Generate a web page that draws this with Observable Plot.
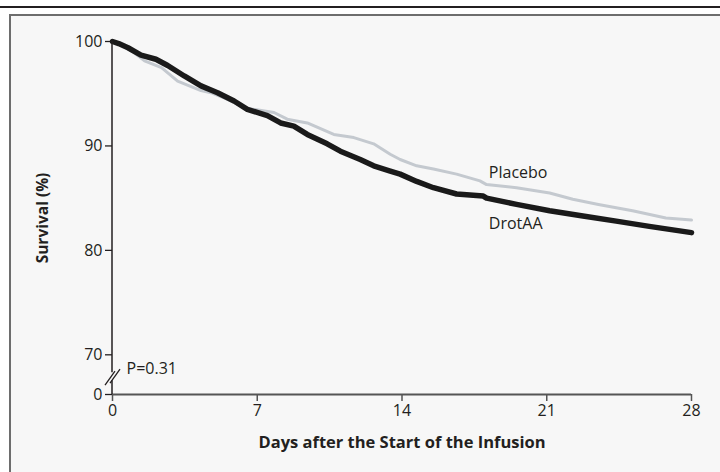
<!DOCTYPE html>
<html>
<head>
<meta charset="utf-8">
<script src="https://cdn.jsdelivr.net/npm/d3@7"></script>
<script src="https://cdn.jsdelivr.net/npm/@observablehq/plot@0.6"></script>
<style>
  html, body { margin: 0; padding: 0; background: #ffffff; }
  #wrap { position: relative; width: 720px; height: 472px; overflow: hidden; }
  #topline { position: absolute; left: 0; top: 6px; width: 720px; height: 2px; background: #231f20; }
  #box { position: absolute; left: 9px; top: 14px; width: 740px; height: 480px; border: 2px solid #6d6d6d; background: #f7f7f7; box-sizing: border-box; }
  #chart { position: absolute; left: 0; top: 0; }
</style>
</head>
<body>
<div id="wrap">
  <div id="topline"></div>
  <div id="box"></div>
  <div id="chart"></div>
</div>
<script>
// Data (Kaplan-Meier survival, %)
const drotDays = [0, 0.3, 0.75, 1.38, 2.1, 2.67, 3.47, 4.28, 5.08, 5.88, 6.52, 7.49, 8.13, 8.77, 9.42, 10.38, 11.02, 11.98, 12.63, 13.43, 13.91, 14.71, 15.52, 16.64, 17.93, 18.09, 19.54, 21.14, 22.75, 24.36, 25.96, 28];
const drotSurv = [100, 99.8, 99.4, 98.7, 98.3, 97.7, 96.7, 95.75, 95.1, 94.3, 93.5, 92.9, 92.2, 91.9, 91.1, 90.2, 89.5, 88.7, 88.1, 87.6, 87.3, 86.6, 86.0, 85.4, 85.2, 85.0, 84.4, 83.8, 83.3, 82.8, 82.3, 81.7];
const placeboDays = [0, 0.5, 1.0, 1.55, 2.37, 3.15, 4.28, 4.76, 5.5, 6.5, 7.2, 7.81, 8.45, 9.42, 10.7, 11.67, 12.63, 13.43, 13.91, 14.71, 15.52, 16.64, 17.77, 18.09, 19.54, 21.14, 22.26, 23.5, 25.15, 26.76, 28];
const placeboSurv = [100, 99.6, 99.0, 98.15, 97.5, 96.2, 95.3, 95.1, 94.5, 93.6, 93.4, 93.2, 92.56, 92.2, 91.1, 90.8, 90.2, 89.2, 88.7, 88.1, 87.8, 87.3, 86.65, 86.3, 86.0, 85.5, 84.9, 84.4, 83.8, 83.1, 82.9];

const xTicks = [0, 7, 14, 21, 28];
const yTicks = [70, 80, 90, 100];
const yBreakLabel = "0";          // label shown at the bottom of the broken axis
const yFloor = 66.2;              // where the broken axis ends (stands for 0)
const seriesNames = ["Placebo", "DrotAA"];
const labelDays = [18.2, 18.2];
const labelSurv = [87.4, 82.5];
const pValueText = "P=0.31";
const xTitle = "Days after the Start of the Infusion";
const yTitle = "Survival (%)";

const drot = drotDays.map((d, i) => ({day: d, surv: drotSurv[i]}));
const placebo = placeboDays.map((d, i) => ({day: d, surv: placeboSurv[i]}));
const labels = seriesNames.map((n, i) => ({name: n, day: labelDays[i], surv: labelSurv[i]}));

const W = 720, H = 472;
const ink = "#231f20";
const font = "'Open Sans', sans-serif";

const plot = Plot.plot({
  width: W,
  height: H,
  marginLeft: 112,
  marginRight: 29,
  marginTop: 41,
  marginBottom: 78,
  style: {background: "transparent", color: ink, fontFamily: font},
  x: {domain: [0, 28]},
  y: {domain: [yFloor, 100]},
  marks: [
    Plot.axisX({ticks: xTicks, tickSize: 7, tickPadding: 3, fontSize: 16, stroke: "#555", strokeWidth: 1.5, label: null, fill: ink}),
    Plot.axisY({ticks: [yFloor, ...yTicks], tickFormat: d => d === yFloor ? yBreakLabel : d, tickSize: 7, tickPadding: 3, fontSize: 16, strokeWidth: 1.3, label: null, fill: ink}),
    Plot.ruleY([yFloor], {x1: 0, x2: 28, stroke: "#555", strokeWidth: 2}),
    Plot.line(placebo, {x: "day", y: "surv", stroke: "#c4c9cf", strokeWidth: 3}),
    Plot.line(drot, {x: "day", y: "surv", stroke: "#1a1a1a", strokeWidth: 5.5}),
    Plot.text(labels, {x: "day", y: "surv", text: "name", textAnchor: "start", fontSize: 16, fill: ink}),
    Plot.text([pValueText], {frameAnchor: "bottom-left", dx: 14, dy: -21, textAnchor: "start", fontSize: 16, fill: ink}),
    Plot.text([xTitle], {frameAnchor: "bottom", dy: 53, fontSize: 16.5, fontWeight: "bold", fill: ink}),
    Plot.text([yTitle], {frameAnchor: "left", dx: -69, rotate: -90, textAnchor: "middle", fontSize: 15.5, fontWeight: "bold", fill: ink})
  ]
});

// Broken y-axis line, positioned through the library's scales
const sx = plot.scale("x"), sy = plot.scale("y");
const svg = d3.select(plot);
const ax = sx.apply(0);
const yb = sy.apply(yFloor), y7 = sy.apply(70);
const yMid = (yb + y7) / 2 + 2;
const g = svg.append("g").attr("stroke", ink).attr("fill", "none");
g.append("line").attr("x1", ax).attr("x2", ax).attr("y1", sy.apply(100)).attr("y2", yMid - 4).attr("stroke-width", 1.5);
g.append("line").attr("x1", ax).attr("x2", ax).attr("y1", yMid + 4).attr("y2", yb).attr("stroke-width", 1.5);
[[0, 0], [5, -2]].forEach(([ox, oy]) => {
  g.append("line")
    .attr("x1", ax - 7 + ox).attr("y1", yMid + 9 + oy)
    .attr("x2", ax + 3 + ox).attr("y2", yMid - 5 + oy)
    .attr("stroke-width", 1.3);
});

document.getElementById("chart").appendChild(plot);
</script>
</body>
</html>
